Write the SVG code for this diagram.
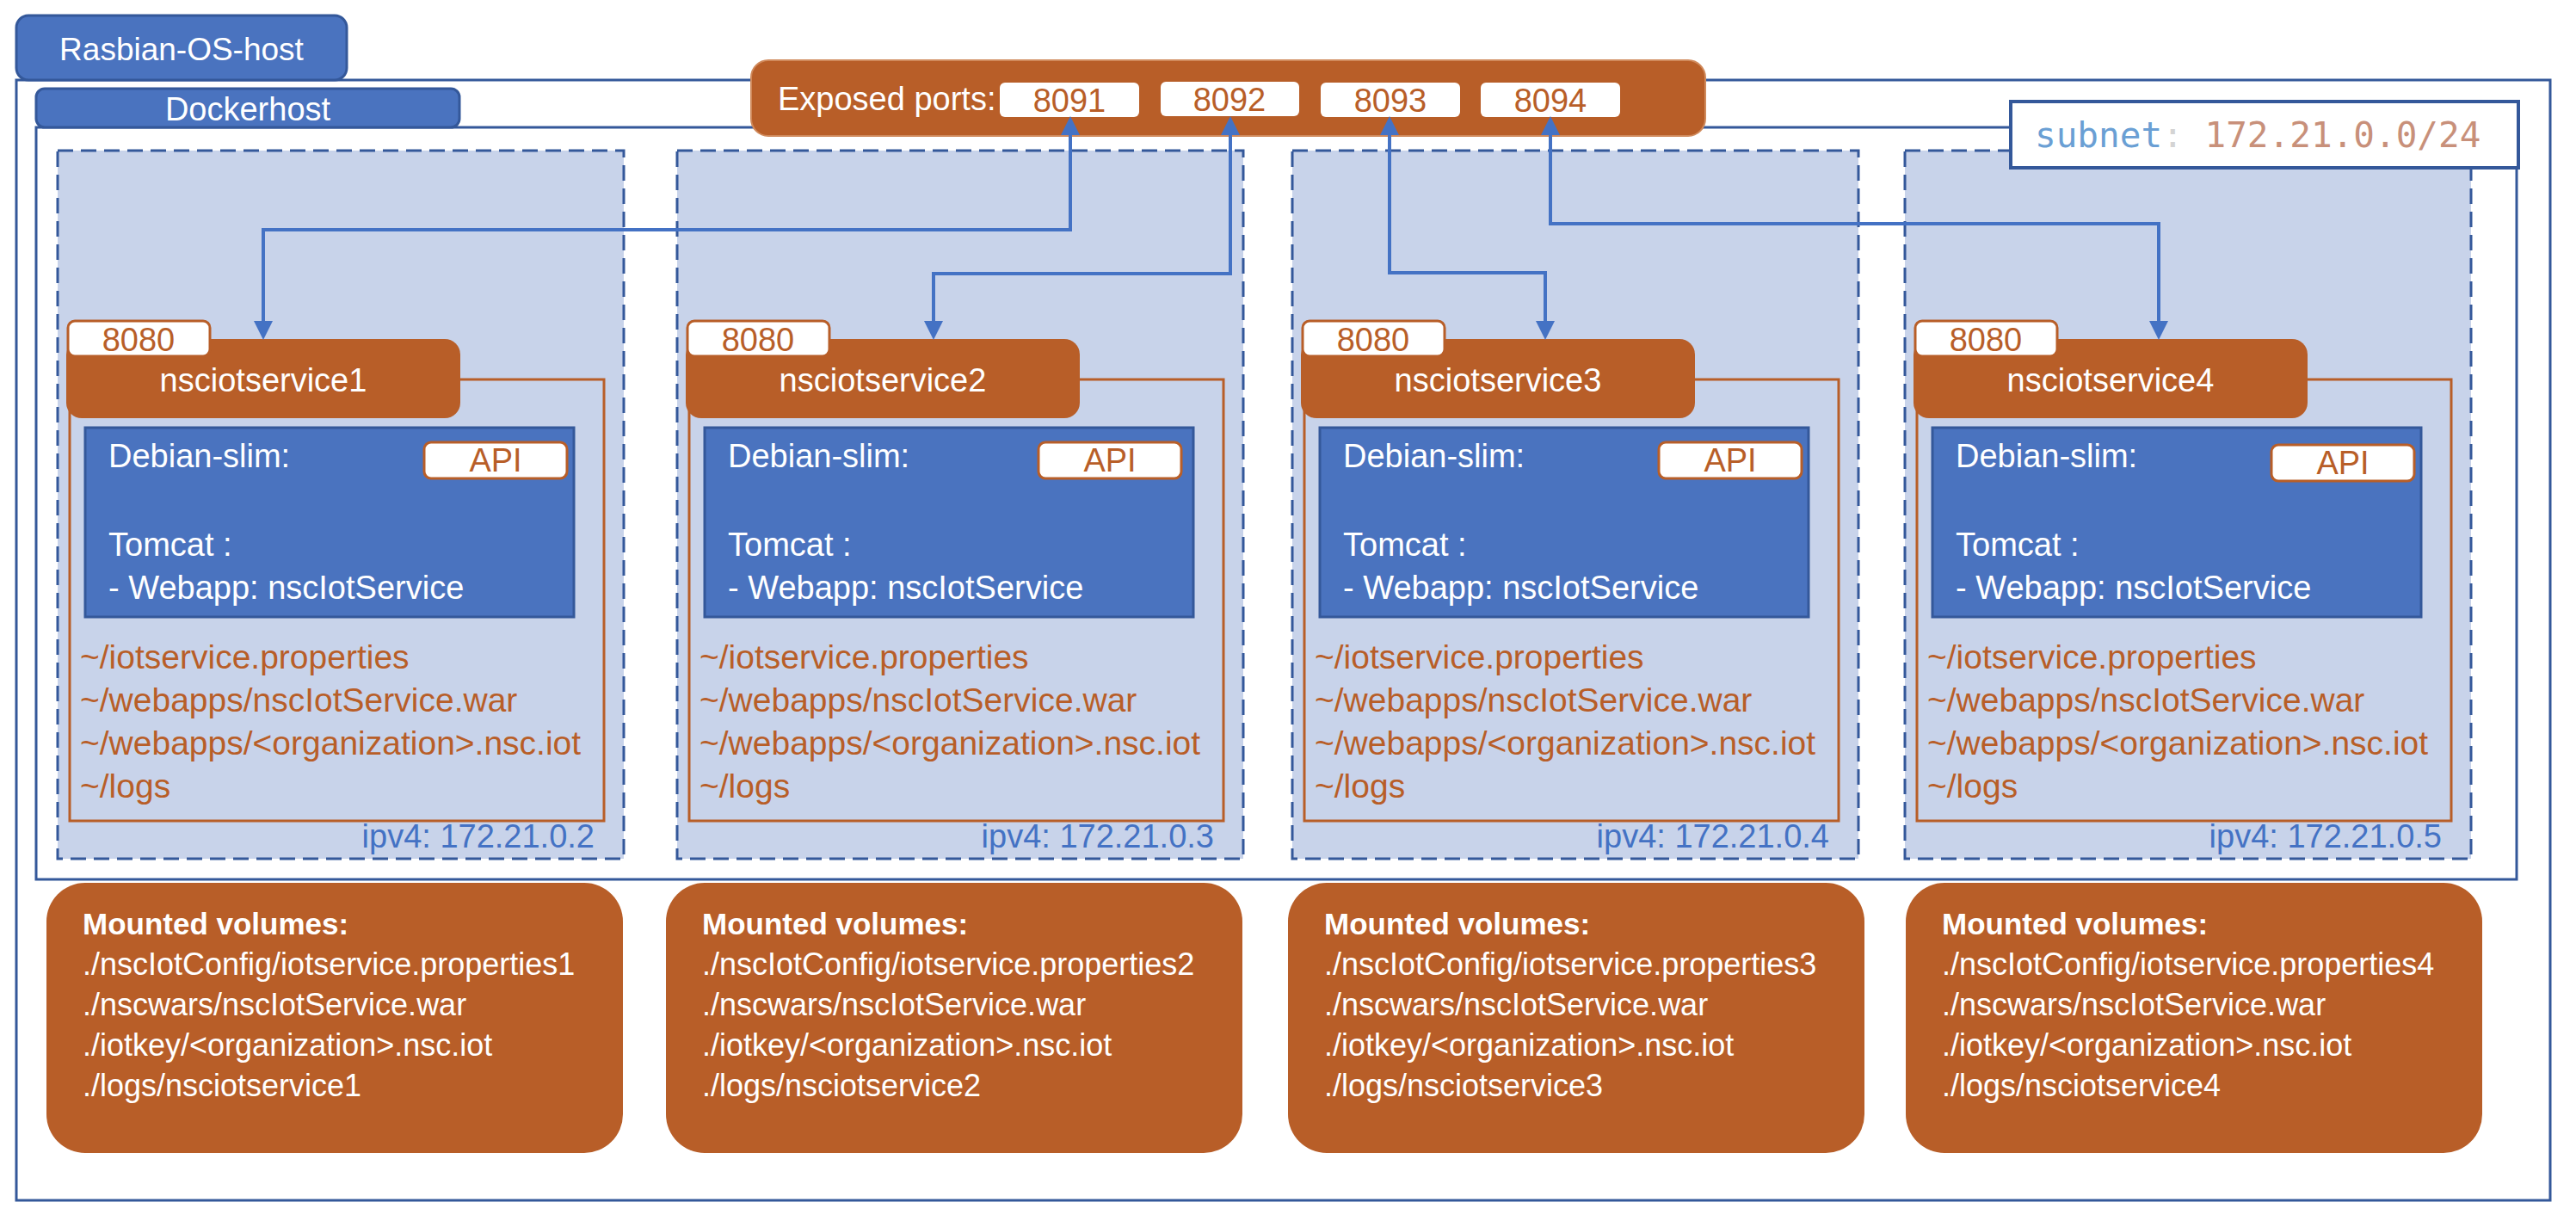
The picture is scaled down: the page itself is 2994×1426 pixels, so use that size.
<svg xmlns="http://www.w3.org/2000/svg" width="2994" height="1426" viewBox="0 0 2994 1426">
<style>
text{font-family:"Liberation Sans",Arial,sans-serif;font-size:38px}
.w{fill:#fff}
.o{fill:#B85E28}
.b{fill:#4472C4}
.m{text-anchor:middle}
.p{font-size:39px}
.mvt{font-size:36px}
.frame{fill:#fff;stroke:#34589A;stroke-width:3}
.tab{fill:#4A73BF;stroke:#34589A;stroke-width:3}
.cont{fill:#C8D3EA;stroke:#34589A;stroke-width:3;stroke-dasharray:18 9}
.outl{fill:none;stroke:#B85E28;stroke-width:3}
.svc{fill:#B85E28}
.tag{fill:#fff;stroke:#B85E28;stroke-width:3}
.deb{fill:#4A73BF;stroke:#34589A;stroke-width:3}
.mv{fill:#B85E28}
.con{fill:none;stroke:#4472C4;stroke-width:4;marker-start:url(#ah);marker-end:url(#ah)}
.bold{font-weight:bold;font-size:35px}
.mono{font-family:"DejaVu Sans Mono","Liberation Mono",monospace;font-size:41px}
</style>
<defs>
<marker id="ah" viewBox="0 0 22 22" refX="10" refY="11" markerWidth="22" markerHeight="22" markerUnits="userSpaceOnUse" orient="auto-start-reverse">
<path d="M0,0 L22,11 L0,22 z" fill="#4472C4"/>
</marker>
</defs>

<g id="rasbian-os-host">
<rect class="frame" x="19" y="93" width="2945" height="1302"/>
<rect class="tab" x="19" y="18" width="384" height="75" rx="14"/>
<text class="w m" x="211" y="70" style="font-size:37px">Rasbian-OS-host</text>
</g>

<g id="dockerhost">
<rect class="frame" x="42" y="148" width="2883" height="874"/>
<rect class="tab" x="42" y="103" width="492" height="45" rx="10"/>
<text class="w m" x="288" y="140">Dockerhost</text>
</g>

<g id="container1">
<rect class="cont" x="67" y="175" width="658" height="823"/>
<rect class="outl" x="81" y="441" width="621" height="513"/>
<rect class="svc" x="77" y="394" width="458" height="92" rx="18"/>
<rect class="tag" x="79" y="373" width="165" height="41" rx="8"/>
<text class="o m" x="161" y="408">8080</text>
<text class="w m" x="306" y="455">nsciotservice1</text>
<rect class="deb" x="99" y="497" width="568" height="220"/>
<rect class="tag" x="493" y="514" width="166" height="42" rx="8"/>
<text class="o m" x="576" y="548">API</text>
<text class="w" x="126" y="543">Debian-slim:</text>
<text class="w" x="126" y="646">Tomcat :</text>
<text class="w" x="126" y="696">- Webapp: nscIotService</text>
<text class="o p" x="93" y="777">~/iotservice.properties</text>
<text class="o p" x="93" y="827">~/webapps/nscIotService.war</text>
<text class="o p" x="93" y="877">~/webapps/&lt;organization&gt;.nsc.iot</text>
<text class="o p" x="93" y="927">~/logs</text>
<text class="b" x="691" y="985" text-anchor="end">ipv4: 172.21.0.2</text>
</g>

<g id="container2" transform="translate(720,0)">
<rect class="cont" x="67" y="175" width="658" height="823"/>
<rect class="outl" x="81" y="441" width="621" height="513"/>
<rect class="svc" x="77" y="394" width="458" height="92" rx="18"/>
<rect class="tag" x="79" y="373" width="165" height="41" rx="8"/>
<text class="o m" x="161" y="408">8080</text>
<text class="w m" x="306" y="455">nsciotservice2</text>
<rect class="deb" x="99" y="497" width="568" height="220"/>
<rect class="tag" x="487" y="514" width="166" height="42" rx="8"/>
<text class="o m" x="570" y="548">API</text>
<text class="w" x="126" y="543">Debian-slim:</text>
<text class="w" x="126" y="646">Tomcat :</text>
<text class="w" x="126" y="696">- Webapp: nscIotService</text>
<text class="o p" x="93" y="777">~/iotservice.properties</text>
<text class="o p" x="93" y="827">~/webapps/nscIotService.war</text>
<text class="o p" x="93" y="877">~/webapps/&lt;organization&gt;.nsc.iot</text>
<text class="o p" x="93" y="927">~/logs</text>
<text class="b" x="691" y="985" text-anchor="end">ipv4: 172.21.0.3</text>
</g>

<g id="container3" transform="translate(1435,0)">
<rect class="cont" x="67" y="175" width="658" height="823"/>
<rect class="outl" x="81" y="441" width="621" height="513"/>
<rect class="svc" x="77" y="394" width="458" height="92" rx="18"/>
<rect class="tag" x="79" y="373" width="165" height="41" rx="8"/>
<text class="o m" x="161" y="408">8080</text>
<text class="w m" x="306" y="455">nsciotservice3</text>
<rect class="deb" x="99" y="497" width="568" height="220"/>
<rect class="tag" x="493" y="514" width="166" height="42" rx="8"/>
<text class="o m" x="576" y="548">API</text>
<text class="w" x="126" y="543">Debian-slim:</text>
<text class="w" x="126" y="646">Tomcat :</text>
<text class="w" x="126" y="696">- Webapp: nscIotService</text>
<text class="o p" x="93" y="777">~/iotservice.properties</text>
<text class="o p" x="93" y="827">~/webapps/nscIotService.war</text>
<text class="o p" x="93" y="877">~/webapps/&lt;organization&gt;.nsc.iot</text>
<text class="o p" x="93" y="927">~/logs</text>
<text class="b" x="691" y="985" text-anchor="end">ipv4: 172.21.0.4</text>
</g>

<g id="container4" transform="translate(2147,0)">
<rect class="cont" x="67" y="175" width="658" height="823"/>
<rect class="outl" x="81" y="441" width="621" height="513"/>
<rect class="svc" x="77" y="394" width="458" height="92" rx="18"/>
<rect class="tag" x="79" y="373" width="165" height="41" rx="8"/>
<text class="o m" x="161" y="408">8080</text>
<text class="w m" x="306" y="455">nsciotservice4</text>
<rect class="deb" x="99" y="497" width="568" height="220"/>
<rect class="tag" x="493" y="517" width="166" height="42" rx="8"/>
<text class="o m" x="576" y="551">API</text>
<text class="w" x="126" y="543">Debian-slim:</text>
<text class="w" x="126" y="646">Tomcat :</text>
<text class="w" x="126" y="696">- Webapp: nscIotService</text>
<text class="o p" x="93" y="777">~/iotservice.properties</text>
<text class="o p" x="93" y="827">~/webapps/nscIotService.war</text>
<text class="o p" x="93" y="877">~/webapps/&lt;organization&gt;.nsc.iot</text>
<text class="o p" x="93" y="927">~/logs</text>
<text class="b" x="691" y="985" text-anchor="end">ipv4: 172.21.0.5</text>
</g>

<g id="mounted1">
<rect class="mv" x="54" y="1026" width="670" height="314" rx="45"/>
<text class="w bold" x="96" y="1086">Mounted volumes:</text>
<text class="w mvt" x="96" y="1133">./nscIotConfig/iotservice.properties1</text>
<text class="w mvt" x="96" y="1180">./nscwars/nscIotService.war</text>
<text class="w mvt" x="96" y="1227">./iotkey/&lt;organization&gt;.nsc.iot</text>
<text class="w mvt" x="96" y="1274">./logs/nsciotservice1</text>
</g>
<g id="mounted2" transform="translate(720,0)">
<rect class="mv" x="54" y="1026" width="670" height="314" rx="45"/>
<text class="w bold" x="96" y="1086">Mounted volumes:</text>
<text class="w mvt" x="96" y="1133">./nscIotConfig/iotservice.properties2</text>
<text class="w mvt" x="96" y="1180">./nscwars/nscIotService.war</text>
<text class="w mvt" x="96" y="1227">./iotkey/&lt;organization&gt;.nsc.iot</text>
<text class="w mvt" x="96" y="1274">./logs/nsciotservice2</text>
</g>
<g id="mounted3" transform="translate(1443,0)">
<rect class="mv" x="54" y="1026" width="670" height="314" rx="45"/>
<text class="w bold" x="96" y="1086">Mounted volumes:</text>
<text class="w mvt" x="96" y="1133">./nscIotConfig/iotservice.properties3</text>
<text class="w mvt" x="96" y="1180">./nscwars/nscIotService.war</text>
<text class="w mvt" x="96" y="1227">./iotkey/&lt;organization&gt;.nsc.iot</text>
<text class="w mvt" x="96" y="1274">./logs/nsciotservice3</text>
</g>
<g id="mounted4" transform="translate(2161,0)">
<rect class="mv" x="54" y="1026" width="670" height="314" rx="45"/>
<text class="w bold" x="96" y="1086">Mounted volumes:</text>
<text class="w mvt" x="96" y="1133">./nscIotConfig/iotservice.properties4</text>
<text class="w mvt" x="96" y="1180">./nscwars/nscIotService.war</text>
<text class="w mvt" x="96" y="1227">./iotkey/&lt;organization&gt;.nsc.iot</text>
<text class="w mvt" x="96" y="1274">./logs/nsciotservice4</text>
</g>

<g id="subnet">
<rect x="2337" y="118" width="590" height="77" fill="#fff" stroke="#34589A" stroke-width="4"/>
<text class="mono" x="2365" y="171"><tspan fill="#6A9FD4">subnet</tspan><tspan fill="#D4D4D4">:</tspan><tspan fill="#C8907A"> 172.21.0.0/24</tspan></text>
</g>

<g id="exposed-ports">
<rect x="873" y="70" width="1109" height="88" rx="20" fill="#B85E28" stroke="#D08A5C" stroke-width="2"/>
<text class="w" x="904" y="128">Exposed ports:</text>
<rect x="1162" y="96" width="162" height="40" rx="6" fill="#fff"/>
<text class="o m" x="1243" y="130">8091</text>
<rect x="1349" y="95" width="161" height="40" rx="6" fill="#fff"/>
<text class="o m" x="1429" y="129">8092</text>
<rect x="1535" y="96" width="162" height="40" rx="6" fill="#fff"/>
<text class="o m" x="1616" y="130">8093</text>
<rect x="1721" y="96" width="162" height="40" rx="6" fill="#fff"/>
<text class="o m" x="1802" y="130">8094</text>
</g>

<g id="connectors">
<path class="con" d="M1244,147 V267 H306 V383"/>
<path class="con" d="M1430,147 V318 H1085 V383"/>
<path class="con" d="M1615,147 V317 H1796 V383"/>
<path class="con" d="M1802,147 V260 H2509 V383"/>
</g>
</svg>
